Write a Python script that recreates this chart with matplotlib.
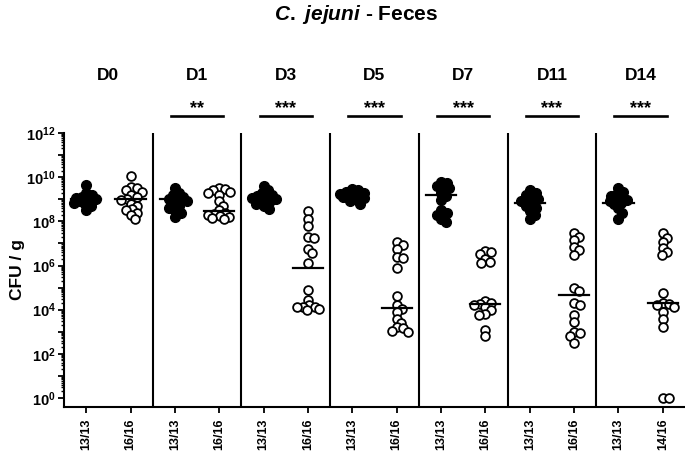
# C. jejuni - Feces: CFU per gram over days, control (filled) vs treated (open)
import numpy as np
import matplotlib
matplotlib.use('Agg')
import matplotlib.pyplot as plt
import matplotlib.transforms as mtransforms
from matplotlib.ticker import FixedLocator, FuncFormatter, NullFormatter

plt.rcParams['font.family'] = ['Liberation Sans', 'DejaVu Sans']
plt.rcParams['font.weight'] = 'bold'
plt.rcParams['mathtext.fontset'] = 'custom'
plt.rcParams['mathtext.rm'] = 'Liberation Sans:bold'
plt.rcParams['mathtext.bf'] = 'Liberation Sans:bold'
plt.rcParams['mathtext.it'] = 'Liberation Sans:italic:bold'

# data (log10 CFU/g)
days = ['D0', 'D1', 'D3', 'D5', 'D7', 'D11', 'D14']
stars = ['', '**', '***', '***', '***', '***', '***']
ctrl_counts = ['13/13', '13/13', '13/13', '13/13', '13/13', '13/13', '13/13']
trt_counts = ['16/16', '16/16', '16/16', '16/16', '16/16', '16/16', '14/16']

ctrl_log = [
    [9.65, 9.3, 9.2, 9.1, 9.05, 9.0, 9.0, 8.95, 8.9, 8.85, 8.8, 8.7, 8.5],
    [9.5, 9.3, 9.2, 9.1, 9.0, 9.0, 8.9, 8.8, 8.7, 8.6, 8.5, 8.4, 8.2],
    [9.6, 9.4, 9.3, 9.2, 9.15, 9.1, 9.05, 9.0, 8.95, 8.9, 8.8, 8.7, 8.55],
    [9.45, 9.4, 9.35, 9.3, 9.25, 9.2, 9.2, 9.15, 9.1, 9.05, 9.0, 8.9, 8.8],
    [9.8, 9.75, 9.6, 9.55, 9.5, 9.3, 9.15, 8.95, 8.5, 8.4, 8.3, 8.1, 7.95],
    [9.4, 9.3, 9.2, 9.1, 9.0, 8.95, 8.9, 8.8, 8.7, 8.6, 8.45, 8.3, 8.1],
    [9.5, 9.35, 9.25, 9.15, 9.1, 9.0, 8.95, 8.9, 8.85, 8.8, 8.6, 8.4, 8.1],
]
trt_log = [
    [10.05, 9.55, 9.5, 9.4, 9.35, 9.2, 9.1, 9.0, 8.95, 8.8, 8.7, 8.55, 8.5, 8.4, 8.3, 8.1],
    [9.5, 9.45, 9.4, 9.35, 9.3, 9.2, 8.9, 8.7, 8.5, 8.4, 8.35, 8.3, 8.25, 8.2, 8.15, 8.1],
    [8.45, 8.1, 7.8, 7.3, 7.25, 6.75, 6.55, 6.1, 4.9, 4.45, 4.2, 4.1, 4.1, 4.05, 4.0, 4.1],
    [7.05, 6.95, 6.75, 6.38, 6.34, 5.9, 4.6, 4.2, 4.05, 3.9, 3.6, 3.4, 3.2, 3.15, 3.05, 3.0],
    [6.65, 6.6, 6.5, 6.3, 6.15, 6.1, 4.4, 4.3, 4.25, 4.2, 4.1, 4.0, 3.8, 3.75, 3.1, 2.8],
    [7.45, 7.3, 7.15, 6.85, 6.7, 6.47, 5.0, 4.85, 4.3, 4.2, 3.75, 3.45, 3.0, 2.95, 2.8, 2.5],
    [7.45, 7.25, 7.07, 6.8, 6.6, 6.47, 4.75, 4.3, 4.25, 4.2, 4.1, 3.9, 3.6, 3.2, 0.0, 0.0],
]
ctrl_median = [9.0, 9.0, 9.1, 9.2, 9.2, 8.83, 8.83]
trt_median = [9.0, 8.47, 5.9, 4.08, 4.25, 4.66, 4.3]

# layout in pixels
W, H = 685, 458
ax_left, ax_right, ax_top, ax_bot = 64, 685, 133, 407
px_per_dec = (ax_bot - ax_top - 9) / 12.0
px_per_x = (ax_right - ax_left) / 14.0


def swarm(logs, d=9.0, overlap=0.5, max_off=11):
    # simple beeswarm in pixel space, overlapping allowed like the original
    ys = np.array(logs) * px_per_dec
    order = np.argsort(-ys)
    cands = [0]
    for k in range(1, max_off + 1):
        cands += [k, -k]
    placed = []
    xs = np.zeros(len(ys))
    for i in order:
        best, best_d = 0, -1
        for off in cands:
            md = min([np.hypot(off - px, ys[i] - py) for px, py in placed] or [99])
            if md >= overlap * d:
                best = off
                break
            if md > best_d:
                best, best_d = off, md
        xs[i] = best
        placed.append((best, ys[i]))
    return xs / px_per_x


fig = plt.figure(figsize=(W / 100, H / 100), dpi=100)
ax = fig.add_axes([ax_left / W, 1 - ax_bot / H, (ax_right - ax_left) / W, (ax_bot - ax_top) / H])
ax.set_yscale('log')
ax.set_ylim(10 ** (-9 / px_per_dec), 1e12)
ax.set_xlim(-0.5, 13.5)

for i in range(len(days)):
    xc, xt = 2 * i, 2 * i + 1
    cv = 10 ** np.array(ctrl_log[i])
    tv = 10 ** np.array(trt_log[i])
    ax.plot(xc + swarm(ctrl_log[i], overlap=0.62, max_off=12), cv, 'o', ms=7, mfc='black',
            mec='black', mew=1.0, ls='none', zorder=3, clip_on=False)
    ax.plot(xt + swarm(trt_log[i], overlap=0.62), tv, 'o', ms=6.3, mfc='white', mec='black',
            mew=1.3, ls='none', zorder=3, clip_on=False)
    ax.plot([xc - 0.34, xc + 0.34], [10 ** ctrl_median[i]] * 2, color='black', lw=1.6, zorder=4)
    ax.plot([xt - 0.34, xt + 0.34], [10 ** trt_median[i]] * 2, color='black', lw=1.6, zorder=4)
    if i > 0:
        ax.axvline(xc - 0.5, color='black', lw=1.5, zorder=2)

# labels above the panels
trans = mtransforms.blended_transform_factory(ax.transData, ax.transAxes)
for i, d in enumerate(days):
    xm = 2 * i + 0.5
    ax.text(xm, 1.193, d, transform=trans, ha='center', va='baseline', fontsize=12.5,
            fontweight='bold')
    if stars[i]:
        ax.text(xm, 1.073, stars[i], transform=trans, ha='center', va='baseline',
                fontsize=13, fontweight='bold')
        ax.plot([xm - 0.59, xm + 0.59], [1.062, 1.062], transform=trans, color='black',
                lw=1.9, clip_on=False)

fig.text(356 / W, 1 - 14 / H, r'$\mathit{C.\ jejuni}$ - Feces', ha='center', va='center',
         fontsize=15, fontweight='bold')

# axes styling
for s in ['top', 'right']:
    ax.spines[s].set_visible(False)
for s in ['left', 'bottom']:
    ax.spines[s].set_linewidth(1.5)

ax.yaxis.set_major_locator(FixedLocator([10.0 ** k for k in range(0, 13)]))
ax.yaxis.set_major_formatter(FuncFormatter(
    lambda v, p: r'$\mathbf{10^{%d}}$' % round(np.log10(v)) if round(np.log10(v)) % 2 == 0 else ''))
minor = [m * 10.0 ** k for k in range(0, 12) for m in range(2, 10)]
ax.yaxis.set_minor_locator(FixedLocator(minor))
ax.yaxis.set_minor_formatter(NullFormatter())
ax.tick_params(axis='y', which='major', length=4, width=1.3, labelsize=10.5, pad=2)
ax.tick_params(axis='y', which='minor', length=2.5, width=1.0)

ax.set_xticks(range(14))
xlabels = []
for a, b in zip(ctrl_counts, trt_counts):
    xlabels += [a, b]
ax.set_xticklabels(xlabels, rotation=90, fontsize=9, fontweight='bold')
ax.tick_params(axis='x', length=4, width=1.3, pad=4)

ax.set_ylabel('CFU / g', fontsize=12.5, fontweight='bold')
ax.yaxis.set_label_coords((25 - ax_left) / (ax_right - ax_left), 0.5)

fig.savefig('out.png', dpi=100)
